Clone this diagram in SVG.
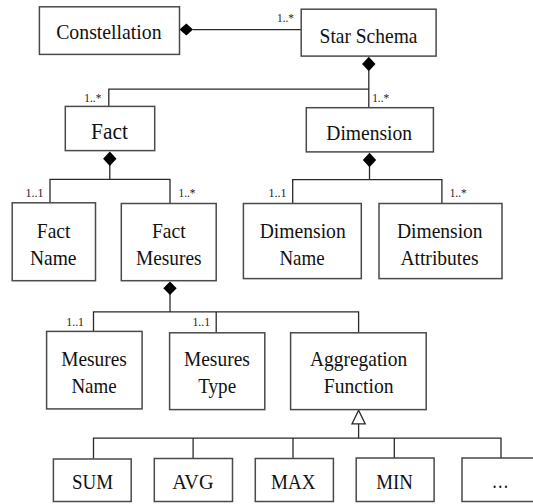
<svg xmlns="http://www.w3.org/2000/svg" width="533" height="504" viewBox="0 0 533 504">
<style>
.box{fill:#fff;stroke:#4a4a4a;stroke-width:1.5}
.t{fill:#111;text-anchor:middle;font-family:"Liberation Serif","Times New Roman",serif}
.m{fill:#222;font-size:12px;font-family:"Liberation Serif","Times New Roman",serif}
.c{fill:none;stroke:#2a2a2a;stroke-width:1.3}
.d{fill:#000;stroke:none}
.g{fill:#fff;stroke:#2a2a2a;stroke-width:1.3}
</style>
<rect width="533" height="504" fill="#fff"/>
<g id="connectors">
  <line class="c" x1="193" y1="29.6" x2="301" y2="29.6"/>
  <polygon class="d" points="179.5,29.6 186.3,23.6 193.1,29.6 186.3,35.6"/>
  <polyline class="c" points="368.8,70.5 368.8,107.7"/>
  <polyline class="c" points="368.8,89.1 108.8,89.1 108.8,106.4"/>
  <polygon class="d" points="368.8,56.8 375.5,64 368.8,71.2 362.1,64"/>
  <polyline class="c" points="109.8,165 109.8,179.4"/>
  <polyline class="c" points="50,202.8 50,179.4 170,179.4 170,203.5"/>
  <polygon class="d" points="109.8,151.6 116.5,158.8 109.8,166 103.1,158.8"/>
  <polyline class="c" points="369.5,165 369.5,179.7"/>
  <polyline class="c" points="292.7,203.5 292.7,179.7 441.9,179.7 441.9,203.5"/>
  <polygon class="d" points="369.5,152.8 376.2,160 369.5,167.2 362.8,160"/>
  <polyline class="c" points="170,293 170,311.9"/>
  <polyline class="c" points="93.5,331.4 93.5,311.9 358.6,311.9 358.6,332.8"/>
  <line class="c" x1="216.2" y1="311.9" x2="216.2" y2="332.8"/>
  <polygon class="d" points="170,281.5 176.7,288.3 170,295.1 163.3,288.3"/>
  <polyline class="c" points="358.6,423.9 358.6,438.1"/>
  <polyline class="c" points="93.5,458.5 93.5,438.1 501,438.1 501,458.5"/>
  <line class="c" x1="193.1" y1="438.1" x2="193.1" y2="458.5"/>
  <line class="c" x1="293" y1="438.1" x2="293" y2="458.5"/>
  <line class="c" x1="394.3" y1="438.1" x2="394.3" y2="458.5"/>
  <polygon class="g" points="358.6,410.2 365.2,423.9 352,423.9"/>
  <text class="m" x="277" y="22" textLength="17" lengthAdjust="spacingAndGlyphs">1..*</text>
  <text class="m" x="84.3" y="102" textLength="17" lengthAdjust="spacingAndGlyphs">1..*</text>
  <text class="m" x="372.2" y="102" textLength="17" lengthAdjust="spacingAndGlyphs">1..*</text>
  <text class="m" x="25.5" y="197.4" textLength="18" lengthAdjust="spacingAndGlyphs">1..1</text>
  <text class="m" x="178.5" y="197.4" textLength="17" lengthAdjust="spacingAndGlyphs">1..*</text>
  <text class="m" x="268.5" y="197.4" textLength="18" lengthAdjust="spacingAndGlyphs">1..1</text>
  <text class="m" x="449.7" y="197.4" textLength="17" lengthAdjust="spacingAndGlyphs">1..*</text>
  <text class="m" x="66.3" y="326.3" textLength="17.7" lengthAdjust="spacingAndGlyphs">1..1</text>
  <text class="m" x="192.4" y="326.3" textLength="17.7" lengthAdjust="spacingAndGlyphs">1..1</text>
</g>
<g id="constellation">
  <rect class="box" x="39.4" y="6.8" width="140.1" height="47.6"/>
  <text class="t" x="108.9" y="39.4" font-size="22" textLength="105.4" lengthAdjust="spacingAndGlyphs">Constellation</text>
</g>
<g id="star-schema">
  <rect class="box" x="301.2" y="9.2" width="134.9" height="46.9"/>
  <text class="t" x="368.5" y="42.5" font-size="22" textLength="97.9" lengthAdjust="spacingAndGlyphs">Star Schema</text>
</g>
<g id="fact">
  <rect class="box" x="65.3" y="106.4" width="89.4" height="44.2"/>
  <text class="t" x="109.6" y="139.4" font-size="23.5" textLength="37" lengthAdjust="spacingAndGlyphs">Fact</text>
</g>
<g id="dimension">
  <rect class="box" x="306.3" y="107.7" width="127.1" height="44.2"/>
  <text class="t" x="369.2" y="140.4" font-size="22" textLength="85.7" lengthAdjust="spacingAndGlyphs">Dimension</text>
</g>
<g id="fact-name">
  <rect class="box" x="12.2" y="202.8" width="83.3" height="77.9"/>
  <text class="t" x="53.6" y="237.5" font-size="21" textLength="33.7" lengthAdjust="spacingAndGlyphs">Fact</text>
  <text class="t" x="53.2" y="264.7" font-size="21" textLength="46.6" lengthAdjust="spacingAndGlyphs">Name</text>
</g>
<g id="fact-mesures">
  <rect class="box" x="121.3" y="203.5" width="94.9" height="77.2"/>
  <text class="t" x="168.8" y="237.5" font-size="21" textLength="33.7" lengthAdjust="spacingAndGlyphs">Fact</text>
  <text class="t" x="168.8" y="264.7" font-size="21" textLength="65.6" lengthAdjust="spacingAndGlyphs">Mesures</text>
</g>
<g id="dimension-name">
  <rect class="box" x="243.4" y="203.5" width="117.9" height="75.1"/>
  <text class="t" x="302.7" y="237.5" font-size="21" textLength="86" lengthAdjust="spacingAndGlyphs">Dimension</text>
  <text class="t" x="302" y="264.7" font-size="21" textLength="45.2" lengthAdjust="spacingAndGlyphs">Name</text>
</g>
<g id="dimension-attributes">
  <rect class="box" x="379" y="203.5" width="123" height="75.1"/>
  <text class="t" x="439.8" y="237.5" font-size="21" textLength="85.7" lengthAdjust="spacingAndGlyphs">Dimension</text>
  <text class="t" x="439.5" y="264.7" font-size="21" textLength="78.2" lengthAdjust="spacingAndGlyphs">Attributes</text>
</g>
<g id="mesures-name">
  <rect class="box" x="46.6" y="331.4" width="95.5" height="77.5"/>
  <text class="t" x="94" y="365.5" font-size="21" textLength="65.6" lengthAdjust="spacingAndGlyphs">Mesures</text>
  <text class="t" x="94" y="392.8" font-size="21" textLength="45.2" lengthAdjust="spacingAndGlyphs">Name</text>
</g>
<g id="mesures-type">
  <rect class="box" x="169.6" y="332.8" width="95.2" height="76.8"/>
  <text class="t" x="216.9" y="366" font-size="21" textLength="65.9" lengthAdjust="spacingAndGlyphs">Mesures</text>
  <text class="t" x="217.2" y="393.3" font-size="21" textLength="38" lengthAdjust="spacingAndGlyphs">Type</text>
</g>
<g id="aggregation-function">
  <rect class="box" x="290.6" y="332.8" width="135.6" height="76.8"/>
  <text class="t" x="358.6" y="366" font-size="21" textLength="97.2" lengthAdjust="spacingAndGlyphs">Aggregation</text>
  <text class="t" x="358.7" y="393.3" font-size="21" textLength="69.7" lengthAdjust="spacingAndGlyphs">Function</text>
</g>
<g id="sum">
  <rect class="box" x="53.4" y="459" width="77.8" height="42.5"/>
  <text class="t" x="92.6" y="488.5" font-size="21" textLength="41.1" lengthAdjust="spacingAndGlyphs">SUM</text>
</g>
<g id="avg">
  <rect class="box" x="154.3" y="458.5" width="78.2" height="43"/>
  <text class="t" x="192.9" y="488.5" font-size="21" textLength="41.2" lengthAdjust="spacingAndGlyphs">AVG</text>
</g>
<g id="max">
  <rect class="box" x="255.3" y="458.5" width="78.1" height="43"/>
  <text class="t" x="293.2" y="488.5" font-size="21" textLength="44.5" lengthAdjust="spacingAndGlyphs">MAX</text>
</g>
<g id="min">
  <rect class="box" x="356.2" y="458" width="77.9" height="43.5"/>
  <text class="t" x="394.6" y="488.5" font-size="21" textLength="36.7" lengthAdjust="spacingAndGlyphs">MIN</text>
</g>
<g id="more">
  <rect class="box" x="462" y="458" width="80" height="43.5"/>
  <text class="t" x="500.3" y="488" font-size="21" textLength="17" lengthAdjust="spacingAndGlyphs">…</text>
</g>
</svg>
